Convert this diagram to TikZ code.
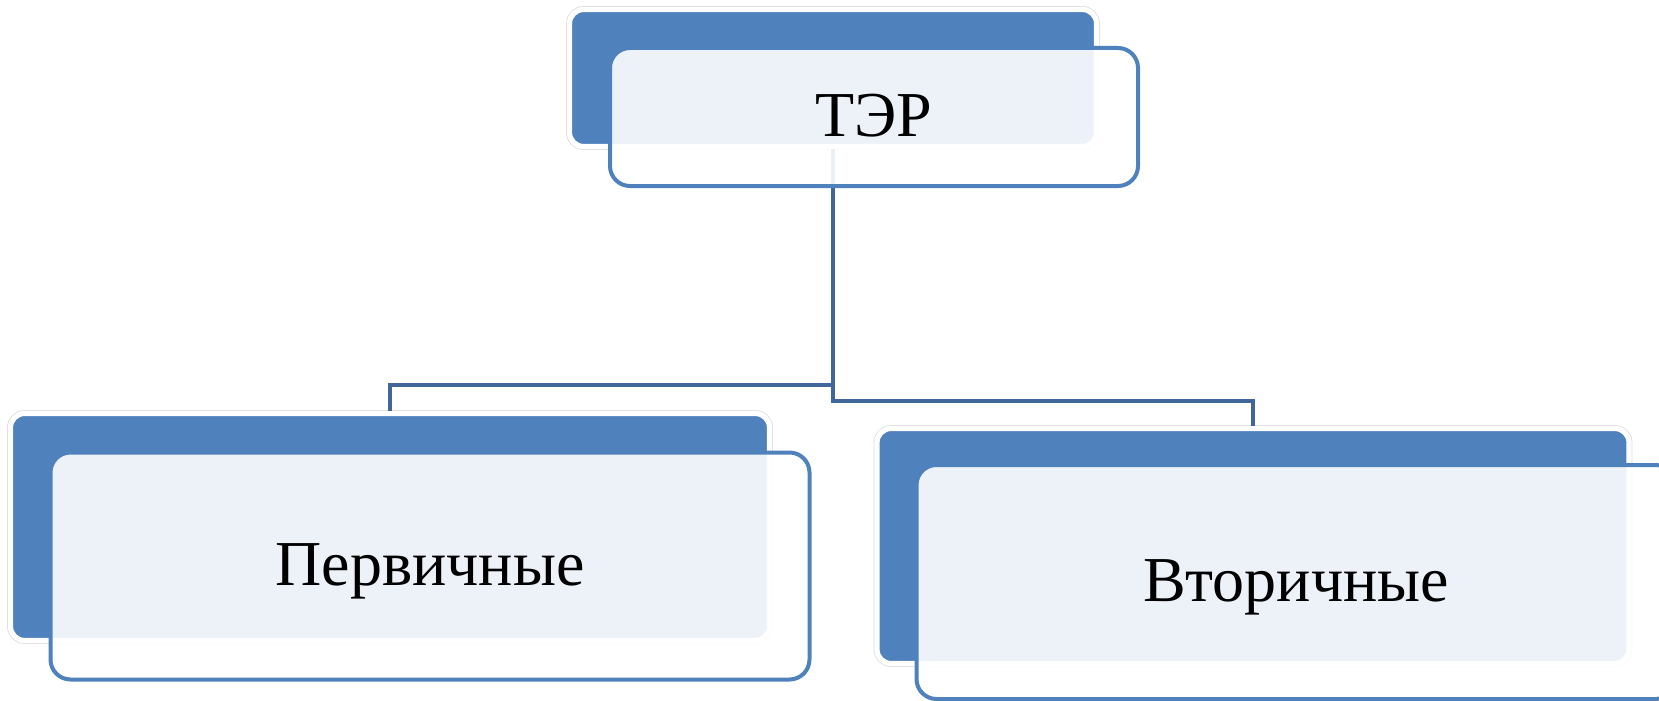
\documentclass[tikz,border=0pt]{standalone}
\usepackage{fontspec}
\setmainfont{Liberation Serif}
\definecolor{backblue}{HTML}{4F81BD}
\definecolor{linkblue}{HTML}{41679A}

\begin{document}
\begin{tikzpicture}[x=0.5pt,y=-0.5pt,
  backbox/.style={rounded corners=7pt,fill=backblue,inner sep=0pt,
    preaction={draw=black!13,line width=3.4pt},draw=white,line width=2.6pt},
  frontbox/.style={rounded corners=10pt,fill=white,fill opacity=0.9,text opacity=1,
    draw=backblue,draw opacity=1,line width=2pt,inner sep=0pt,
    text height=19pt,text depth=0pt,font=\fontsize{32}{38}\selectfont},
  link/.style={draw=linkblue,line width=2pt}]

\useasboundingbox (0,0) rectangle (1659,701);
\clip (0,0) rectangle (1659,701);

% back boxes
\node[backbox,minimum width=263.5pt,minimum height=68.5pt] (terback) at (833,78) {};
\node[backbox,minimum width=379.5pt,minimum height=113.5pt] (pervback) at (390,527) {};
\node[backbox,minimum width=376pt,minimum height=117.5pt] (vtorback) at (1253,546) {};

% connectors
\draw[link] (terback.south) -- ++(0,236) -| (pervback.north);
\draw[link] (terback.south) -- ++(0,252) -| (vtorback.north);

% front boxes
\node[frontbox,minimum width=264pt,minimum height=69pt] (ter) at ([shift={(41,39)}]terback.center) {ТЭР};
\node[frontbox,minimum width=379.5pt,minimum height=113.5pt] (perv) at ([shift={(40,39)}]pervback.center) {Первичные};
\node[frontbox,minimum width=379.5pt,minimum height=117pt] (vtor) at ([shift={(43,36)}]vtorback.center) {Вторичные};

\end{tikzpicture}
\end{document}
